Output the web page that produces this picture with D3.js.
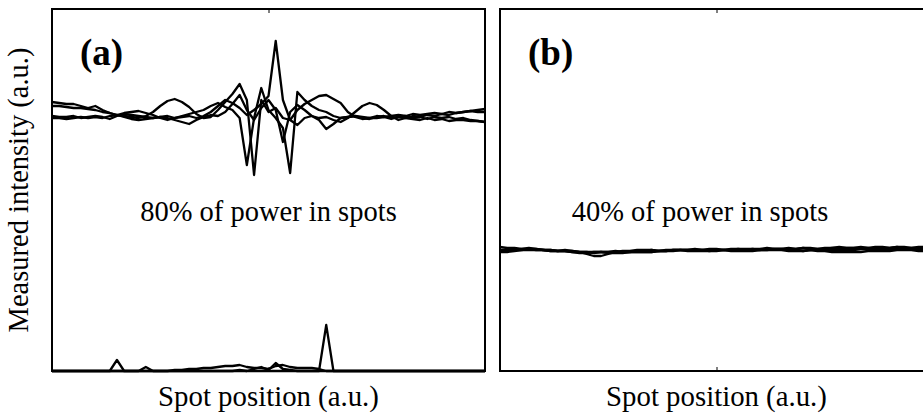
<!DOCTYPE html>
<html>
<head>
<meta charset="utf-8">
<script src="https://cdn.jsdelivr.net/npm/d3@7"></script>
<style>
  html, body { margin: 0; padding: 0; background: #fff; }
  svg { display: block; }
  text { font-family: "Liberation Serif", "Times New Roman", serif; fill: #000; }
</style>
</head>
<body>
<svg id="chart" width="923" height="414"></svg>
<script>
// ---------- data (measured intensity, a.u.) ----------
const panelLabels = ["(a)", "(b)"];
const panelNotes = ["80% of power in spots", "40% of power in spots"];
const xLabel = "Spot position (a.u.)";
const yLabel = "Measured intensity (a.u.)";
const xTicks = [30];

// Panel (a): four spot-intensity traces near the top
const a1 = [269,268,267,267,265,263,265,261,258,256,255,254,253,255,259,265,270,272,269,264,257,253,254,261,269,277,287,271,196,271,259,263,253,251,261,267,271,275,276,272,268,259,254,252,253,253,254,252,254,253,255,254,256,255,257,256,258,259,260,261,262];
const a2 = [265,265,264,263,263,262,261,259,258,256,258,259,260,258,256,253,251,253,255,257,259,261,265,268,264,261,253,206,253,283,261,253,243,198,279,271,265,261,259,255,253,254,255,253,252,254,255,253,254,255,253,254,252,254,253,254,252,253,251,250,249];
const a3 = [255,254,254,255,253,254,255,254,252,255,257,256,255,254,253,254,255,253,254,255,253,255,259,265,271,268,263,256,261,267,275,330,271,251,246,253,255,251,242,247,253,254,255,254,253,255,254,255,256,255,257,256,257,258,257,259,258,259,260,259,259];
const a4 = [253,253,252,253,254,253,254,253,255,256,254,252,251,252,253,254,253,251,249,247,251,254,256,255,259,267,276,261,251,263,271,261,229,259,266,261,255,253,254,251,249,253,259,265,268,266,261,255,251,253,252,251,253,251,252,250,251,251,250,250,249];
// Panel (a): residual traces near zero
const a5 = [0,0,0,0,0,0,0,0,0,11,0,0,0,4,0,0,0,0,0,0,0,0,0,0,0,0,0,0,0,0,0,0,0,0,0,0,0,0,46,0,0,0,0,0,0,0,0,0,0,0,0,0,0,0,0,0,0,0,0,0,0];
const a6 = [0,0,0,0,0,0,0,0,0,0,0,0,0,0,0,0,0,1,1,2,2,3,3,4,5,5,6,4,3,3,2,5,6,4,3,3,3,2,0,0,0,0,0,0,0,0,0,0,0,0,0,0,0,0,0,0,0,0,0,0,0];
const a7 = [0,0,0,0,0,0,0,0,0,0,0,0,0,0,0,0,0,0,0,0,0,0,0,0,0,0,1,0,2,4,1,8,2,1,0,0,0,0,0,0,0,0,0,0,0,0,0,0,0,0,0,0,0,0,0,0,0,0,0,0,0];

// Panel (b): four traces
const b1 = [124,123,123,122,123,122,121,121,120,121,120,119,119,118,119,119,120,119,119,120,120,121,120,120,121,121,121,122,121,122,122,121,122,122,121,122,122,123,122,122,123,122,123,123,122,123,123,124,123,123,124,123,124,124,123,124,124,123,124,124,124];
const b2 = [120,120,121,121,122,121,121,120,120,120,119,118,118,119,119,119,119,120,120,121,121,121,120,121,121,121,121,121,121,121,121,121,121,122,122,122,121,122,122,122,122,122,123,122,122,122,123,123,123,123,123,123,122,123,123,124,123,123,123,123,123];
const b3 = [119,119,120,121,121,121,121,121,120,120,120,119,117,115,115,117,119,119,119,119,119,119,120,120,120,121,121,121,121,120,120,121,121,121,121,121,121,121,122,122,121,121,120,121,121,121,121,121,121,121,122,122,122,122,122,122,122,122,122,122,122];
const b4 = [121,121,121,122,122,122,121,120,120,120,119,119,119,119,119,118,118,118,119,119,119,119,120,120,121,121,120,120,120,120,121,121,120,120,120,120,121,121,121,121,120,120,120,121,120,120,119,119,119,119,119,120,120,120,120,121,121,121,120,120,121];

const panelSeries = [[a1, a2, a3, a4, a5, a6, a7], [b1, b2, b3, b4]];

// ---------- layout ----------
const svg = d3.select("#chart");
const yTop = 9, yBottom = 371;
const panels = [{ left: 52, right: 485 }, { left: 500, right: 933 }];
const y = d3.scaleLinear().domain([0, 362]).range([yBottom, yTop]);

panels.forEach((p, k) => {
  const x = d3.scaleLinear().domain([0, 60]).range([p.left, p.right]);
  const g = svg.append("g");

  const line = d3.line().x((d, i) => x(i)).y(d => y(d));
  g.selectAll("path.trace").data(panelSeries[k]).join("path")
    .attr("class", "trace")
    .attr("d", line)
    .attr("fill", "none")
    .attr("stroke", "#000")
    .attr("stroke-width", 2.3)
    .attr("stroke-linejoin", "round");

  // inward ticks at top and bottom
  const axB = d3.axisBottom(x).tickValues(xTicks).tickSize(-4).tickFormat("");
  const axT = d3.axisTop(x).tickValues(xTicks).tickSize(-4).tickFormat("");
  const gb = g.append("g").attr("transform", `translate(0,${yBottom})`).call(axB);
  const gt = g.append("g").attr("transform", `translate(0,${yTop})`).call(axT);
  [gb, gt].forEach(a => {
    a.select(".domain").remove();
    a.selectAll(".tick line").attr("stroke", "#000").attr("stroke-width", 1);
  });

  // frame
  g.append("rect")
    .attr("x", p.left).attr("y", yTop)
    .attr("width", p.right - p.left).attr("height", yBottom - yTop)
    .attr("fill", "none").attr("stroke", "#000").attr("stroke-width", 2);

  // panel label
  g.append("text")
    .attr("x", p.left + 28).attr("y", 65)
    .attr("font-size", 37).attr("font-weight", "bold")
    .text(panelLabels[k]);

  // note
  g.append("text")
    .attr("x", k === 0 ? (p.left + p.right) / 2 : 700).attr("y", 221)
    .attr("text-anchor", "middle").attr("font-size", 28.5)
    .text(panelNotes[k]);

  // x label
  g.append("text")
    .attr("x", (p.left + p.right) / 2).attr("y", 406)
    .attr("text-anchor", "middle").attr("font-size", 28.8)
    .text(xLabel);
});

svg.append("text")
  .attr("transform", `translate(28,${(yTop + yBottom) / 2}) rotate(-90)`)
  .attr("text-anchor", "middle").attr("font-size", 28.5)
  .text(yLabel);
</script>
</body>
</html>
